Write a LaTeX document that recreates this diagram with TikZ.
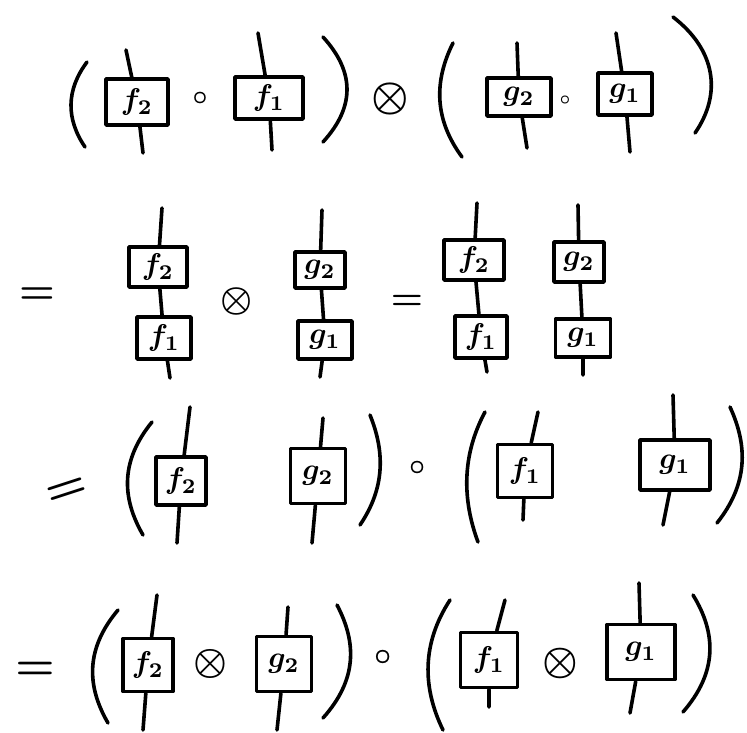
\documentclass[tikz,border=0pt]{standalone}
\usepackage{graphicx}
\usepackage{amsmath}

\newcommand{\lab}[1]{\scalebox{3}{\boldmath$#1$}}
\newcommand{\opsym}[2]{\scalebox{#1}{\boldmath$#2$}}

\tikzset{every picture/.style={line width=3.6pt}}
\tikzset{
  morph/.style={draw, line width=3.6pt, inner sep=0pt, minimum width=56pt, minimum height=44pt},
  op/.style={inner sep=0pt},
  wire/.style={line cap=round},
  paren/.style={line cap=round},
}

\begin{document}
\begin{tikzpicture}[x=1pt, y=-1pt, line cap=round, line join=round]
    \useasboundingbox (0,0) rectangle (747,732);

    % (f2 o f1) (x) (g2 o g1)
    \node[morph, minimum width=62pt, minimum height=46pt] (f2a) at (137,102) {\lab{f_2}};
    \node[morph, minimum width=68pt, minimum height=42pt] (f1a) at (269,98) {\lab{f_1}};
    \node[morph, minimum width=64pt, minimum height=38pt] (g2a) at (519,97) {\lab{g_2}};
    \node[morph, minimum width=54pt, minimum height=42pt] (g1a) at (625,94) {\lab{g_1}};
    \coordinate (f2a-in) at (126,50);  \coordinate (f2a-out) at (143,153);
    \coordinate (f1a-in) at (258,33);  \coordinate (f1a-out) at (272,150);
    \coordinate (g2a-in) at (517,43);  \coordinate (g2a-out) at (527,148);
    \coordinate (g1a-in) at (616,33);  \coordinate (g1a-out) at (630,152);
    \node[op] (oa1) at (200,98) {\opsym{2.6}{\circ}};
    \node[op] (ta1) at (390,99) {\opsym{4.2}{\otimes}};
    \node[op] (oa2) at (565,100) {\opsym{1.8}{\circ}};
    \draw[paren] (87,62) .. controls (66,90) and (66,119) .. (85,147);
    \draw[paren] (323,37) .. controls (355,72) and (355,107) .. (323,142);
    \draw[paren] (453,43) .. controls (434,81) and (434,119) .. (462,157);
    \draw[paren] (673,17) .. controls (716,50) and (722,94) .. (695,133);

    % = stacked f and g, then side by side
    \node[op] (eqb1) at (37,296) {\opsym{4}{=}};
    \node[morph, minimum width=58pt, minimum height=40pt] (f2b) at (158,267) {\lab{f_2}};
    \node[morph, minimum width=54pt, minimum height=42pt] (f1b) at (164,338) {\lab{f_1}};
    \node[op] (tb1) at (237,301) {\opsym{3.6}{\otimes}};
    \node[morph, minimum width=50pt, minimum height=36pt] (g2b) at (320,270) {\lab{g_2}};
    \node[morph, minimum width=54pt, minimum height=38pt] (g1b) at (325,340) {\lab{g_1}};
    \node[op] (eqb2) at (407,302) {\opsym{3.6}{=}};
    \node[morph, minimum width=60pt, minimum height=40pt] (f2c) at (474,260) {\lab{f_2}};
    \node[morph, minimum width=52pt, minimum height=42pt] (f1c) at (481,337) {\lab{f_1}};
    \node[morph, minimum width=50pt, minimum height=40pt] (g2c) at (579,262) {\lab{g_2}};
    \node[morph, minimum width=55pt, minimum height=38pt] (g1c) at (583,338) {\lab{g_1}};
    \coordinate (f2b-in) at (162,208);  \coordinate (f1b-out) at (170,378);
    \coordinate (g2b-in) at (322,210);  \coordinate (g1b-out) at (320,377);
    \coordinate (f2c-in) at (477,203);  \coordinate (f1c-out) at (487,372);
    \coordinate (g2c-in) at (578,205);  \coordinate (g1c-out) at (583,375);

    % = (f2  g2) o (f1  g1)
    \node[op, rotate=18] (eqd) at (67,492) {\opsym{4.6}{=}};
    \node[morph, minimum width=50pt, minimum height=48pt] (f2d) at (181,481) {\lab{f_2}};
    \node[morph, minimum width=55pt, minimum height=55pt] (g2d) at (318,476) {\lab{g_2}};
    \node[op] (od) at (418,468) {\opsym{2.8}{\circ}};
    \node[morph, minimum width=55pt, minimum height=53pt] (f1d) at (525,471) {\lab{f_1}};
    \node[morph, minimum width=70pt, minimum height=50pt] (g1d) at (675,465) {\lab{g_1}};
    \coordinate (f2d-in) at (190,407);  \coordinate (f2d-out) at (177,543);
    \coordinate (g2d-in) at (323,418);  \coordinate (g2d-out) at (312,543);
    \coordinate (f1d-in) at (538,412);  \coordinate (f1d-out) at (523,520);
    \coordinate (g1d-in) at (673,395);  \coordinate (g1d-out) at (663,525);
    \draw[paren] (152,422) .. controls (121,460) and (121,497) .. (143,535);
    \draw[paren] (370,415) .. controls (385,452) and (385,488) .. (360,525);
    \draw[paren] (485,412) .. controls (462,455) and (462,499) .. (478,542);
    \draw[paren] (730,407) .. controls (748,446) and (748,484) .. (717,523);

    % = (f2 (x) g2) o (f1 (x) g1)
    \node[op] (eqe) at (35,671) {\opsym{4.4}{=}};
    \node[morph, minimum width=50pt, minimum height=53pt] (f2e) at (148,665) {\lab{f_2}};
    \node[op] (te1) at (210,664) {\opsym{3.8}{\otimes}};
    \node[morph, minimum width=55pt, minimum height=55pt] (g2e) at (284,664) {\lab{g_2}};
    \node[op] (oe) at (383,657) {\opsym{3}{\circ}};
    \node[morph, minimum width=57pt, minimum height=55pt] (f1e) at (489,660) {\lab{f_1}};
    \node[op] (te2) at (560,663) {\opsym{4}{\otimes}};
    \node[morph, minimum width=68pt, minimum height=55pt] (g1e) at (641,652) {\lab{g_1}};
    \coordinate (f2e-in) at (157,595);  \coordinate (f2e-out) at (143,730);
    \coordinate (g2e-in) at (288,607);  \coordinate (g2e-out) at (277,730);
    \coordinate (f1e-in) at (505,600);  \coordinate (f1e-out) at (489,707);
    \coordinate (g1e-in) at (639,583);  \coordinate (g1e-out) at (630,713);
    \draw[paren] (118,610) .. controls (86,648) and (86,685) .. (108,723);
    \draw[paren] (337,605) .. controls (357,643) and (357,680) .. (323,718);
    \draw[paren] (450,600) .. controls (422,643) and (422,687) .. (443,730);
    \draw[paren] (693,595) .. controls (717,634) and (717,673) .. (683,712);

    % wires
    \foreach \b in {f2a,f1a,g2a,g1a,f2d,g2d,f1d,g1d,f2e,g2e,f1e,g1e}
        \draw[wire] (\b-in) -- (\b) -- (\b-out);
    \draw[wire] (f2b-in) -- (f2b) -- (f1b) -- (f1b-out);
    \draw[wire] (g2b-in) -- (g2b) -- (g1b) -- (g1b-out);
    \draw[wire] (f2c-in) -- (f2c) -- (f1c) -- (f1c-out);
    \draw[wire] (g2c-in) -- (g2c) -- (g1c) -- (g1c-out);
\end{tikzpicture}
\end{document}
